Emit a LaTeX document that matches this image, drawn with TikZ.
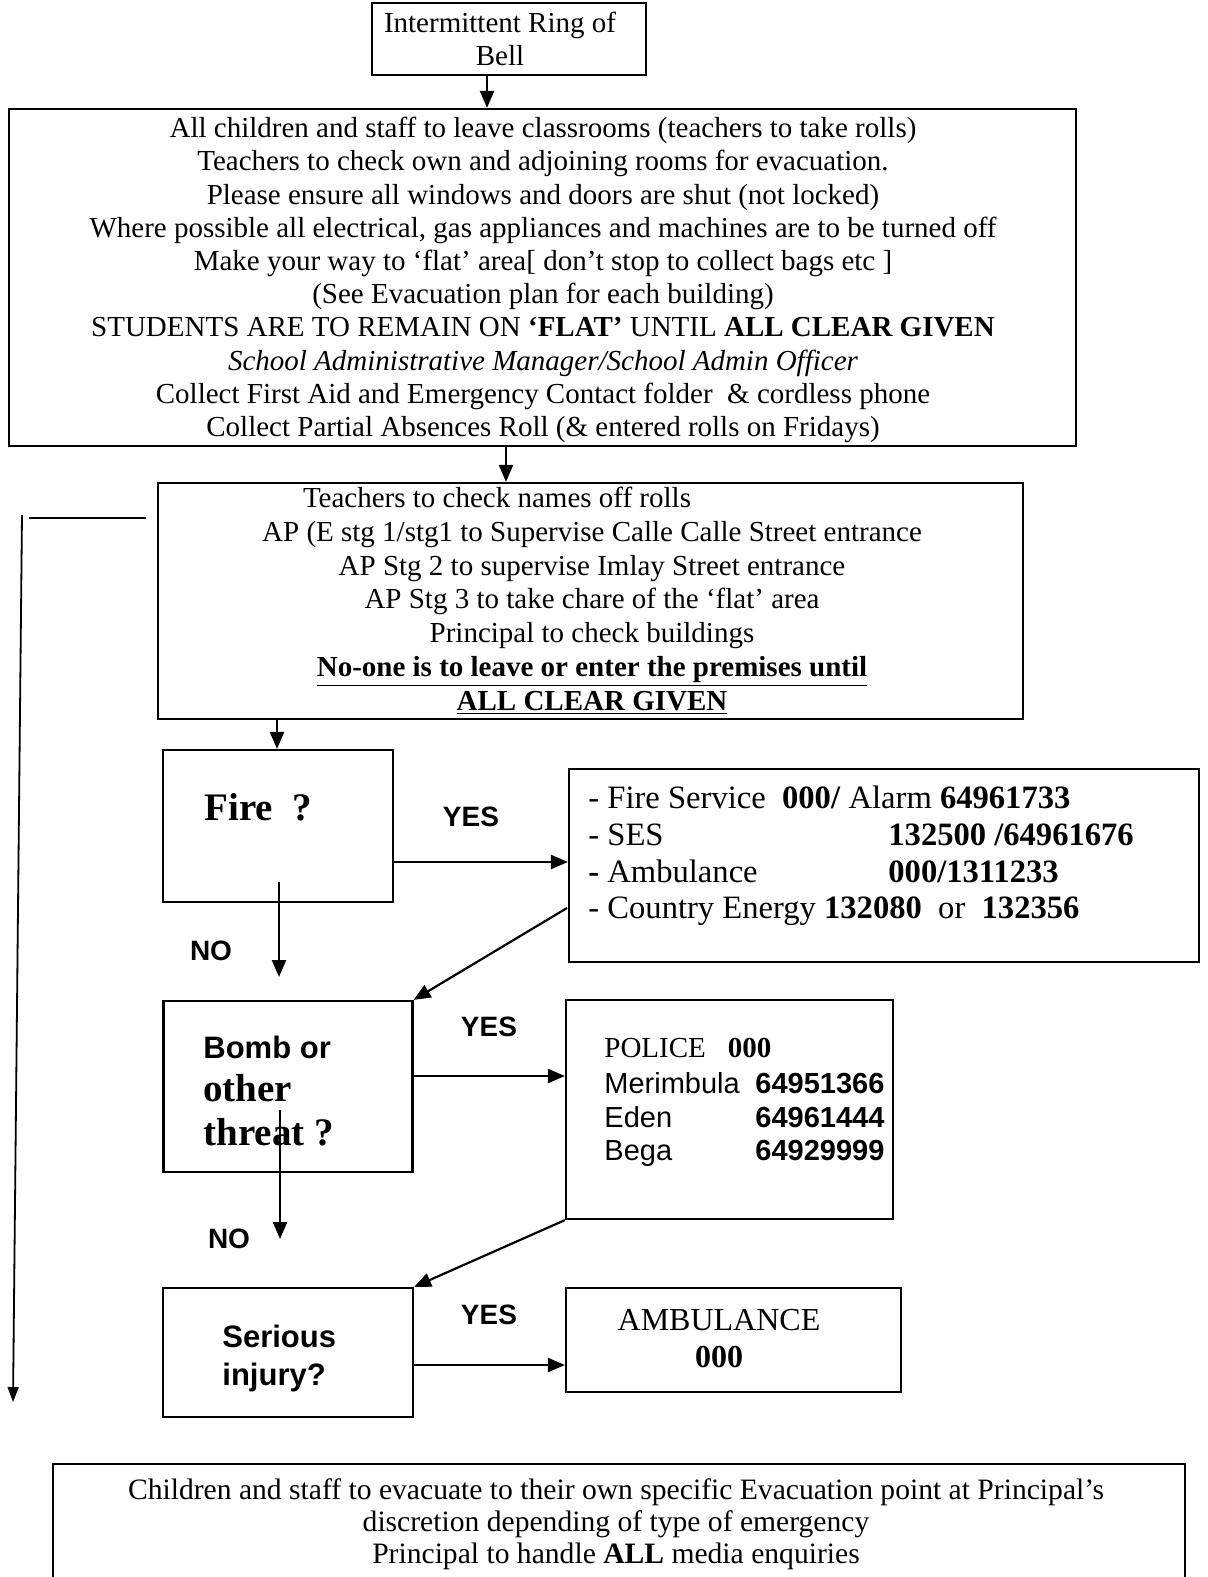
\documentclass[tikz,border=0pt]{standalone}
\usepackage{fontspec}
\setmainfont{Liberation Serif}
\setsansfont{Liberation Sans}
\usetikzlibrary{arrows.meta,calc}
\newcommand{\fsA}{\fontsize{14.5pt}{16.6pt}\selectfont}
\newcommand{\fsB}{\fontsize{16.3pt}{18.3pt}\selectfont}
\newcommand{\fsC}{\fontsize{19.5pt}{22pt}\selectfont}
\newcommand{\fsD}{\fontsize{15.5pt}{18pt}\selectfont}
\newcommand{\fsE}{\fontsize{14pt}{16pt}\selectfont}
\begin{document}
\begin{tikzpicture}[x=0.5pt,y=-0.5pt,
  box/.style={draw,line width=1.1pt,inner sep=0pt},
  txt/.style={inner sep=0pt},
  arr/.style={line width=1.1pt,-{Triangle[length=8.5pt,width=7pt]}},
  thinarr/.style={line width=0.9pt,-{Triangle[length=7.5pt,width=5.5pt]}},
  lbl/.style={inner sep=0pt,font=\sffamily\bfseries\fsE}]
\useasboundingbox (0,0) rectangle (1208,1577);
\clip (0,0) rectangle (1208,1577);
\fill[white] (0,0) rectangle (1208,1577);

% boxes
\node[box,minimum width=137pt,minimum height=36pt] (top) at (509,39) {};
\node[box,minimum width=533.5pt,minimum height=168.5pt] (big) at (542.5,277.5) {};
\node[box,minimum width=432.5pt,minimum height=118pt] (sec) at (590.5,601) {};
\node[box,minimum width=115pt,minimum height=76pt] (fire) at (278,826) {};
\node[box,minimum width=315pt,minimum height=96.5pt] (fsvc) at (884,865.5) {};
\node[box,minimum width=124.5pt,minimum height=85.5pt] (bomb) at (288,1086.5) {};
\node[box,minimum width=163.5pt,minimum height=109.5pt] (police) at (729.5,1109.5) {};
\node[box,minimum width=125pt,minimum height=64.5pt] (serious) at (288,1352.5) {};
\node[box,minimum width=167.5pt,minimum height=52pt] (amb) at (733.5,1340) {};
\node[box,minimum width=566pt,minimum height=90pt] (bot) at (619,1554) {};

% texts
\node[txt,align=center,font=\fsA] (toptxt) at (500,39) {Intermittent Ring of\\Bell};
\node[txt,align=center,font=\fsA] (bigtxt) at (543,280) {All children and staff to leave classrooms (teachers to take rolls)\\
Teachers to check own and adjoining rooms for evacuation.\\
Please ensure all windows and doors are shut (not locked)\\
Where possible all electrical, gas appliances and machines are to be turned off\\
Make your way to ‘flat’ area[ don’t stop to collect bags etc ]\\
(See Evacuation plan for each building)\\
STUDENTS ARE TO REMAIN ON \textbf{‘FLAT’} UNTIL \textbf{ALL CLEAR GIVEN}\\
\textit{School Administrative Manager/School Admin Officer}\\
Collect First Aid and Emergency Contact folder\ \ \& cordless phone\\
Collect Partial Absences Roll (\& entered rolls on Fridays)};
\node[txt,align=center,font=\fontsize{14.5pt}{16.9pt}\selectfont] (sectxt) at (592,601) {Teachers to check names off rolls\hspace*{95pt}\\
AP (E stg 1/stg1 to Supervise Calle Calle Street entrance\\
AP Stg 2 to supervise Imlay Street entrance\\
AP Stg 3 to take chare of the ‘flat’ area\\
Principal to check buildings\\
\underline{\textbf{No-one is to leave or enter the premises until}}\\
\underline{\textbf{ALL CLEAR GIVEN}}};

\node[txt,anchor=base west,font=\bfseries\fsC] (firetxt) at (204,820) {Fire\ \ ?};

\node[txt,anchor=base west,font=\fsB] (fs1) at (588,808) {- Fire Service\ \ \textbf{000/} Alarm \textbf{64961733}};
\node[txt,anchor=base west,font=\fsB] (fs2) at (588,845) {\makebox[150pt][l]{- SES}\textbf{132500 /64961676}};
\node[txt,anchor=base west,font=\fsB] (fs3) at (588,882) {\makebox[150pt][l]{\textbf{-} Ambulance}\textbf{000/1311233}};
\node[txt,anchor=base west,font=\fsB] (fs4) at (588,918) {- Country Energy \textbf{132080}\ \ or\ \ \textbf{132356}};

\node[txt,anchor=base west,font=\sffamily\bfseries\fsD] (bomb1) at (203,1058) {Bomb or};
\node[txt,anchor=base west,font=\bfseries\fsC] (bomb2) at (203,1101) {other};
\node[txt,anchor=base west,font=\bfseries\fsC] (bomb3) at (203,1145) {threat ?};

\node[txt,anchor=base west,font=\fsA] (pol1) at (604,1057) {POLICE\hspace{11pt}\textbf{000}};
\node[txt,anchor=base west,font=\sffamily\fsA] (pol2) at (604,1093) {\makebox[75.5pt][l]{Merimbula}\textbf{64951366}};
\node[txt,anchor=base west,font=\sffamily\fsA] (pol3) at (604,1127) {\makebox[75.5pt][l]{Eden}\textbf{64961444}};
\node[txt,anchor=base west,font=\sffamily\fsA] (pol4) at (604,1160) {\makebox[75.5pt][l]{Bega}\textbf{64929999}};

\node[txt,anchor=base west,font=\sffamily\bfseries\fsD] (ser1) at (222,1347) {Serious};
\node[txt,anchor=base west,font=\sffamily\bfseries\fsD] (ser2) at (222,1385) {injury?};

\node[txt,align=center,font=\fontsize{16pt}{18.5pt}\selectfont] (ambtxt) at (719,1339) {AMBULANCE\\\textbf{000}};

\node[txt,align=center,font=\fontsize{14.8pt}{16pt}\selectfont] (bottxt) at (616,1524) {Children and staff to evacuate to their own specific Evacuation point at Principal’s\\
discretion depending of type of emergency\\
Principal to handle \textbf{ALL} media enquiries};

% labels
\node[lbl] (yes1) at (471,817) {YES};
\node[lbl] (no1) at (211,951) {NO};
\node[lbl] (yes2) at (489,1027) {YES};
\node[lbl] (no2) at (229,1239) {NO};
\node[lbl] (yes3) at (489,1315) {YES};

% connector coordinates
\coordinate (c1) at (487,0);
\coordinate (c2) at (506,0);
\coordinate (c3) at (277,0);
\coordinate (c4) at (0,862);
\coordinate (c6) at (0,1076);
\coordinate (c7) at (0,1365);
\coordinate (n1s) at (279,882);
\coordinate (n1e) at (279,977);
\coordinate (n2s) at (280,1110);
\coordinate (n2e) at (280,1239);
\coordinate (d1) at (567,908);
\coordinate (h1) at (29,518);
\coordinate (h2) at (146,518);
\coordinate (l1) at (22,515);
\coordinate (l2) at (13,1402);

% connectors
\draw[arr] (c1 |- top.south) -- (c1 |- big.north);
\draw[arr] (c2 |- big.south) -- (c2 |- sec.north);
\draw[arr] (c3 |- sec.south) -- (c3 |- fire.north);
\draw[arr] (fire.east |- c4) -- (fsvc.west |- c4);
\draw[arr] (n1s) -- (n1e);
\draw[arr] (d1) -- (bomb.north east);
\draw[arr] (bomb.east |- c6) -- (police.west |- c6);
\draw[arr] (n2s) -- (n2e);
\draw[arr] (police.south west) -- (serious.north east);
\draw[arr] (serious.east |- c7) -- (amb.west |- c7);
\draw[line width=1pt] (h1) -- (h2);
\draw[thinarr] (l1) -- (l2);
\end{tikzpicture}
\end{document}
